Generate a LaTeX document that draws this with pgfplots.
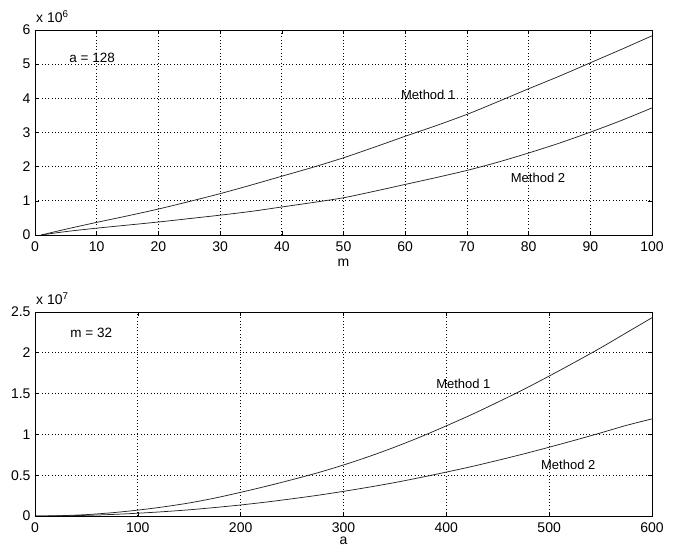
\documentclass[border=0pt]{standalone}
\usepackage{pgfplots}
\pgfplotsset{compat=1.18}
\usepackage{fontspec}
\setmainfont{Liberation Sans}

\pgfplotstableread{
x m1 m2
1 0 0
5 0.17 0.10
10 0.37 0.20
15 0.56 0.29
20 0.76 0.38
25 0.98 0.48
30 1.21 0.58
35 1.46 0.69
40 1.72 0.82
45 1.98 0.95
50 2.26 1.09
55 2.57 1.28
60 2.89 1.48
65 3.20 1.68
70 3.53 1.89
75 3.90 2.13
80 4.28 2.40
85 4.65 2.69
90 5.04 3.01
95 5.43 3.35
100 5.83 3.72
}\topdata

\pgfplotstableread{
x m1 m2
1 0 0
25 0.004 0.002
50 0.017 0.008
75 0.040 0.019
100 0.072 0.034
125 0.112 0.053
150 0.160 0.076
175 0.220 0.104
200 0.290 0.135
225 0.365 0.171
250 0.445 0.211
275 0.530 0.254
300 0.625 0.302
325 0.730 0.354
350 0.845 0.410
375 0.970 0.472
400 1.105 0.538
425 1.245 0.607
450 1.395 0.682
475 1.550 0.760
500 1.715 0.843
525 1.885 0.929
550 2.060 1.018
575 2.245 1.110
600 2.430 1.190
}\botdata

\pgfplotsset{
  mstyle/.style={
    scale only axis,
    width=617pt,
    clip mode=individual,
    axis line style={line width=0.7pt},
    tick align=inside,
    major tick length=4pt,
    tick style={black, line width=0.6pt},
    xtick pos=both, ytick pos=both,
    grid=major,
    major grid style={black, line width=0.7pt, dash pattern=on 0.7pt off 2.6pt},
    tick label style={font=\fontsize{14}{16}\selectfont},
    /pgf/number format/assume math mode=true,
    xticklabel style={yshift=-3pt},
    yticklabel style={xshift=-1pt},
    xlabel style={at={(axis description cs:0.5,0)}, anchor=base, yshift=-32pt, font=\fontsize{14}{16}\selectfont},
    every axis plot post/.append style={draw=black!85, line width=0.75pt, mark=none, smooth, solid},
  }
}

\begin{document}
\begin{tikzpicture}[x=1pt,y=1pt]
\path[use as bounding box] (0,0) rectangle (677,548);
\begin{axis}[mstyle,
  at={(35pt,313pt)}, anchor=south west,
  height=205pt,
  xmin=0, xmax=100, ymin=0, ymax=6,
  xtick={0,10,...,100}, ytick={0,1,...,6},
  xlabel={m},
]
\addplot table[x=x,y=m1]{\topdata};
\addplot table[x=x,y=m2]{\topdata};
\node[anchor=base west, inner sep=0pt, font=\fontsize{14}{16}\selectfont] at (rel axis cs:0,1) [yshift=7pt, xshift=1pt] {x 10\textsuperscript{6}};
\node[anchor=west, font=\fontsize{13.5}{16}\selectfont] at (axis cs:5,5.18) {a = 128};
\node[anchor=west, font=\fontsize{13}{16}\selectfont, inner sep=0pt] at (axis cs:59.3,4.09) {Method 1};
\node[anchor=west, font=\fontsize{13}{16}\selectfont, inner sep=0pt] at (axis cs:77.1,1.68) {Method 2};
\end{axis}
\begin{axis}[mstyle,
  at={(35pt,32pt)}, anchor=south west,
  height=204pt,
  xmin=0, xmax=600, ymin=0, ymax=2.5,
  xtick={0,100,...,600}, ytick={0,0.5,...,2.5},
  yticklabel style={/pgf/number format/fixed},
  xlabel={a},
  xlabel style={yshift=3pt},
]
\addplot table[x=x,y=m1]{\botdata};
\addplot table[x=x,y=m2]{\botdata};
\node[anchor=base west, inner sep=0pt, font=\fontsize{14}{16}\selectfont] at (rel axis cs:0,1) [yshift=7pt, xshift=1pt] {x 10\textsuperscript{7}};
\node[anchor=west, font=\fontsize{13.5}{16}\selectfont] at (axis cs:31,2.25) {m = 32};
\node[anchor=west, font=\fontsize{13}{16}\selectfont, inner sep=0pt] at (axis cs:390,1.62) {Method 1};
\node[anchor=west, font=\fontsize{13}{16}\selectfont, inner sep=0pt] at (axis cs:492,0.63) {Method 2};
\end{axis}
\end{tikzpicture}
\end{document}
